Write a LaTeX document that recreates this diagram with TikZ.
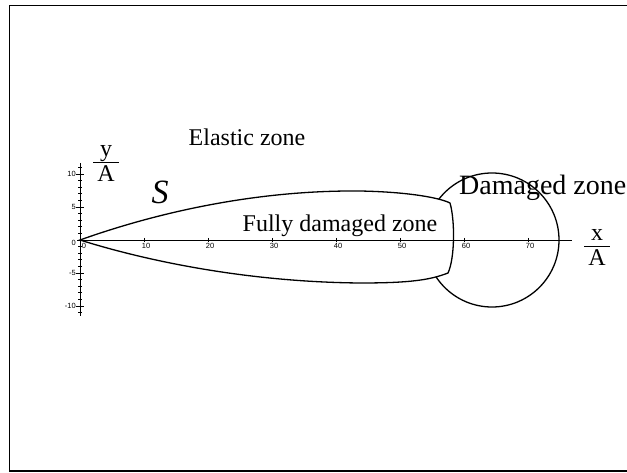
\documentclass[tikz,border=0pt]{standalone}
\usepackage{fontspec}
\setmainfont{Liberation Serif}
\setsansfont{Liberation Sans}
\newcommand{\overA}[1]{\begin{tabular}{@{\,}c@{\,}}#1\\[-3pt]\hline\noalign{\vskip1pt}A\end{tabular}}
\begin{document}
\begin{tikzpicture}[x=1pt, y=-1pt,
  outline/.style={line width=1.3pt},
  zone/.style={font=\fontsize{24}{28}\selectfont, inner sep=0pt, anchor=base},
  ratio/.style={font=\fontsize{24}{26}\selectfont, inner sep=0pt},
  ticklbl/.style={font=\sffamily\fontsize{7.5}{7.5}\selectfont, inner sep=1pt}
]
  \useasboundingbox (0,0) rectangle (627,473);
  \draw[line width=1.2pt] (627,5.5) -- (9.5,5.5) -- (9.5,471) -- (627,471);

  % damaged zone
  \draw[outline] (492,240) circle[radius=67];
  % fully damaged zone
  \draw[outline, fill=white] (80,240) .. controls (150,215) and (250,190) .. (360,191)
    .. controls (410,192) and (440,198) .. (450,203)
    .. controls (455,220) and (455,258) .. (448,273)
    .. controls (430,280) and (410,283) .. (360,283)
    .. controls (250,282) and (150,262) .. (80,240) -- cycle;

  % axes
  \draw[line width=0.8pt] (77,240) -- (572,240);
  \draw[line width=0.8pt] (80,163) -- (80,316);
  \foreach \k in {-11,...,11}
    \draw[line width=0.6pt] (78,240+6.6*\k) -- (82,240+6.6*\k);
  \foreach \k/\v in {-10/10,-5/5,5/-5,10/-10} {
    \draw[line width=0.6pt] (76,240+6.6*\k) -- (84,240+6.6*\k);
    \node[ticklbl, anchor=east] (y\k) at (77,240+6.6*\k) {\v};
  }
  \node[ticklbl, anchor=east] (y0) at (77,243) {0};
  \node[ticklbl] (x0) at (84,246) {0};
  \foreach \v in {10,20,...,70} {
    \draw[line width=0.6pt] (80+6.4*\v,238) -- (80+6.4*\v,242);
    \node[ticklbl] (x\v) at (82+6.4*\v,246) {\v};
  }

  \node[zone] (elastic) at (247,146) {Elastic zone};
  \node[font=\fontsize{34}{36}\selectfont\itshape, inner sep=0pt] (S) at (160,192) {S};
  \node[zone] (fully) at (340,232) {Fully damaged zone};
  \node[zone, font=\fontsize{28}{30}\selectfont, anchor=base west] (damaged) at (459,195) {Damaged zone};
  \node[ratio] (yA) at (106,164) {\overA{y}};
  \node[ratio] (xA) at (597,248) {\overA{x}};
\end{tikzpicture}
\end{document}
